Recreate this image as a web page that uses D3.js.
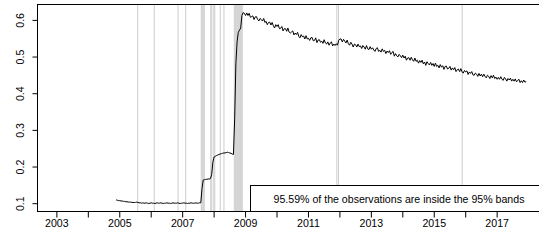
<!DOCTYPE html>
<html><head><meta charset="utf-8">
<script src="https://cdn.jsdelivr.net/npm/d3@7"></script>
<style>
body{margin:0;background:#fff}
svg{display:block}
text{font-family:"Liberation Sans",Arial,Helvetica,sans-serif;fill:#000}
</style>
</head><body>
<svg id="chart" width="539" height="243"></svg>
<script>
// ---- data ----
const startYear = 2004.9;   // first observation (decimal year)
const perYear = 26;         // observations per year

const phaseEarly = [0.109,0.108,0.107,0.107,0.106,0.106,0.105,0.105,0.104,0.104,0.103,0.103,0.103,0.102,0.102,0.102];
const phaseFlat = [
  0.102,0.103,0.102,0.101,0.101,0.100,0.101,0.100,0.100,0.101,
  0.100,0.099,0.100,0.101,0.100,0.100,0.099,0.100,0.101,0.100,
  0.100,0.101,0.100,0.099,0.100,0.100,0.101,0.100,0.100,0.099,
  0.100,0.101,0.100,0.100,0.100,0.101,0.100,0.099,0.100,0.100,
  0.101,0.100,0.100,0.099,0.100,0.100,0.101,0.100,0.100,0.100,
  0.101,0.100,0.100,0.101,0.101];
const phaseCrisis = [
  0.140,0.163,0.164,0.165,0.165,0.166,0.166,0.167,0.178,0.212,0.226,
  0.228,0.230,0.231,0.233,0.234,0.235,0.236,0.237,0.237,0.238,0.239,0.238,0.237,0.236,0.234,0.233,
  0.330,0.480,0.540,0.566,0.572,0.578,0.612,0.620];
const phaseDecline1 = [
  0.618,0.612,0.619,0.612,0.618,0.607,0.609,0.611,0.601,0.608,
  0.609,0.601,0.597,0.604,0.601,0.597,0.604,0.593,0.596,0.587,
  0.593,0.594,0.586,0.593,0.584,0.578,0.587,0.582,0.587,0.576,
  0.577,0.582,0.570,0.576,0.576,0.569,0.578,0.567,0.564,0.567,
  0.570,0.559,0.564,0.560,0.566,0.555,0.551,0.560,0.554,0.556,
  0.548,0.557,0.548,0.550,0.544,0.551,0.552,0.543,0.544,0.551,
  0.538,0.545,0.546,0.539,0.542,0.536,0.546,0.537,0.534,0.540,
  0.531,0.537,0.540,0.529,0.534,0.530,0.535,0.531];
const phaseJump = [0.544,0.548];
const phaseDecline2 = [
  0.548,0.540,0.547,0.542,0.537,0.545,0.535,0.531,0.539,0.534,0.526,0.534,0.532,
  0.526,0.534,0.527,0.529,0.522,0.530,0.526,0.520,0.530,0.521,0.519,0.527,0.520,
  0.524,0.518,0.514,0.522,0.524,0.514,0.517,0.512,0.521,0.514,0.517,0.508,0.515,
  0.511,0.516,0.506,0.511,0.514,0.501,0.508,0.502,0.499,0.506,0.502,0.497,0.504,
  0.496,0.501,0.490,0.496,0.497,0.490,0.498,0.491,0.487,0.496,0.487,0.490,0.482,
  0.489,0.484,0.490,0.480,0.485,0.476,0.486,0.481,0.477,0.484,0.476,0.481,0.473,
  0.482,0.473,0.476,0.469,0.478,0.471,0.475,0.465,0.473,0.474,0.466,0.468,0.473,
  0.463,0.469,0.464,0.470,0.459,0.464,0.466,0.459,0.467,0.458,0.455,0.462,0.458,
  0.461,0.451,0.458,0.454,0.459,0.450,0.449,0.455,0.452,0.446,0.454,0.447,0.452,
  0.445,0.452,0.446,0.442,0.449,0.446,0.440,0.448,0.442,0.449,0.440,0.444,0.438,
  0.443,0.438,0.445,0.438,0.435,0.443,0.439,0.433,0.440,0.436,0.441,0.433,0.438,
  0.433,0.439,0.431,0.435,0.438,0.429,0.434,0.429,0.436,0.430,0.432];
const values = [].concat(phaseEarly, phaseFlat, phaseCrisis, phaseDecline1, phaseJump, phaseDecline2);

// dates of observations outside the bands (vertical grey lines)
const outsideDates = [2005.587,2006.112,2006.869,2007.114,
  2007.607,2007.639,2007.671,2007.703,
  2007.909,2007.941,2008.005,2008.037,
  2008.211,2008.329,
  2008.657,2008.689,2008.720,2008.752,2008.784,2008.816,2008.848,2008.880,2008.911,
  2011.918,2011.972,2015.905];

const xTickYears = [2003,2004,2005,2006,2007,2008,2009,2010,2011,2012,2013,2014,2015,2016,2017];
const xTickLabels = [2003,2005,2007,2009,2011,2013,2015,2017];
const yTickValues = [0.1,0.2,0.3,0.4,0.5,0.6];
const legendText = "95.59% of the observations are inside the 95% bands";

// ---- drawing ----
const svg = d3.select("#chart");
const L = 37.5, R = 545.4, T = 4.5, B = 211.5;
const x = d3.scaleLinear().domain([2002.4, 2018.55]).range([L, R]);
const y = d3.scaleLinear().domain([0.0773, 0.642]).range([B, T]);
const fs = "10.6px";

svg.append("g").selectAll("line").data(outsideDates).join("line")
  .attr("x1", d => x(d)).attr("x2", d => x(d))
  .attr("y1", T).attr("y2", B)
  .attr("stroke", "#cdcdcd").attr("stroke-width", 1);

const line = d3.line()
  .x((d, i) => x(startYear + i / perYear))
  .y(d => y(d));
svg.append("path").datum(values)
  .attr("d", line).attr("fill", "none")
  .attr("stroke", "#000").attr("stroke-width", 1).attr("stroke-linejoin", "round");

// legend box (bottom right)
svg.append("rect").attr("x", 250.5).attr("y", 185.5).attr("width", 300).attr("height", B - 185.5)
  .attr("fill", "#fff").attr("stroke", "#000").attr("stroke-width", 1);
svg.append("text").attr("x", 399).attr("y", 202.5).attr("text-anchor", "middle")
  .style("font-size", fs).text(legendText);

// plot box
svg.append("rect").attr("x", L).attr("y", T).attr("width", R - L).attr("height", B - T)
  .attr("fill", "none").attr("stroke", "#000").attr("stroke-width", 1);

// x axis
const xAxis = d3.axisBottom(x).tickValues(xTickYears).tickSize(6).tickPadding(2)
  .tickFormat(d => xTickLabels.includes(d) ? String(d) : "");
const gx = svg.append("g").attr("transform", `translate(0,${B})`).call(xAxis);
gx.select(".domain").remove();
gx.selectAll("text").style("font-size", fs).attr("font-family", null);

// y axis
const yAxis = d3.axisLeft(y).tickValues(yTickValues).tickSize(5).tickFormat(d3.format(".1f"));
const gy = svg.append("g").attr("transform", `translate(${L},0)`).call(yAxis);
gy.select(".domain").remove();
gy.selectAll("text").style("font-size", fs).attr("font-family", null)
  .attr("x", 0).attr("y", -13.5).attr("dy", null)
  .attr("transform", "rotate(-90)").attr("text-anchor", "middle");
</script>
</body></html>
